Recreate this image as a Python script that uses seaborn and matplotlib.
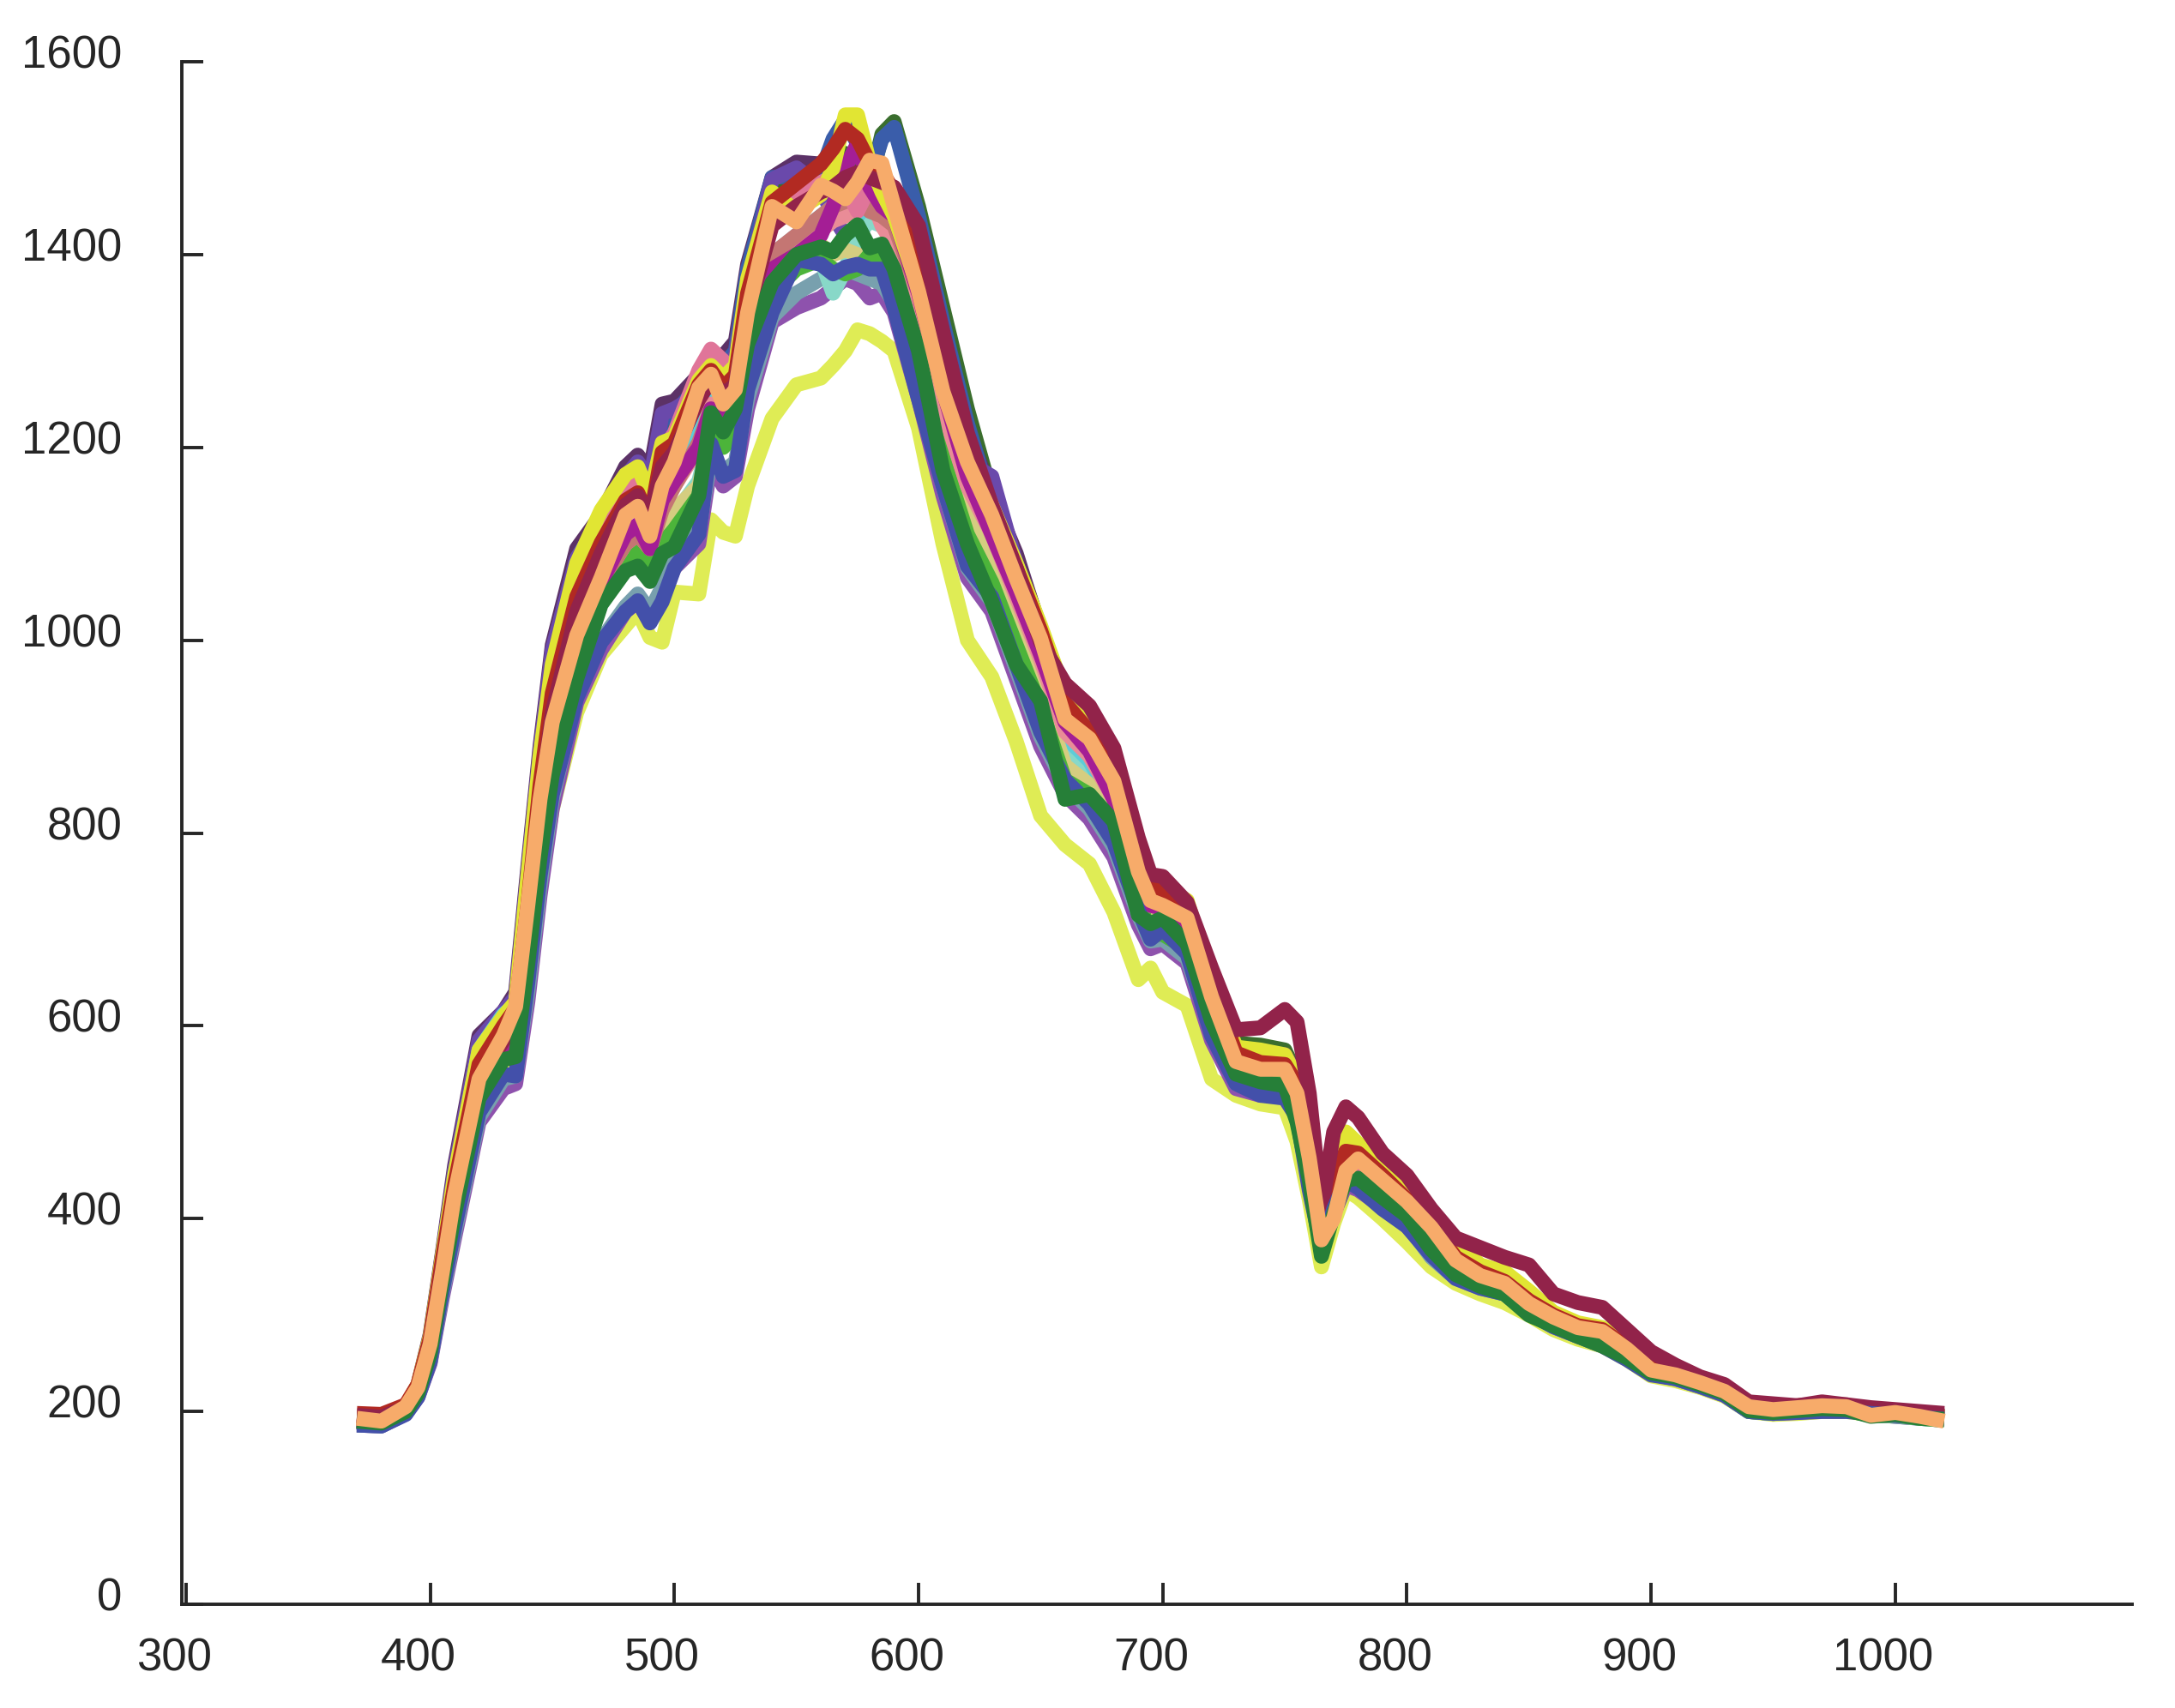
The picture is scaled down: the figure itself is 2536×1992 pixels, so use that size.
import pandas as pd
import matplotlib
matplotlib.use('Agg')
import matplotlib.pyplot as plt
import matplotlib.transforms as mtransforms
import seaborn as sns

# wavelength grid (nm) shared by all spectra
wavelength = [370, 380, 390, 395, 400, 405, 410, 420, 430, 435, 440, 445,
              450, 460, 470, 480, 485, 490, 495, 500,
              510, 515, 520, 525, 530,
              540, 550, 560, 565, 570, 575, 580, 585, 590,
              600, 610, 620, 630, 640, 650, 660, 670, 680, 690,
              695, 700, 710, 720, 730, 740, 750, 755, 760, 765, 770, 775, 780,
              790, 800, 810, 820, 830, 840, 850, 860, 870, 880,
              890, 900, 910, 920, 930, 940, 950, 960, 970, 980,
              990, 1000, 1010, 1020]

light_yellow = [190, 188, 200, 218, 255, 325, 390, 505, 548, 555, 640, 745,
                825, 925, 985, 1015, 1030, 1003, 998, 1050,
                1048, 1125, 1112, 1108, 1160,
                1230, 1265, 1272, 1285, 1300, 1322, 1318, 1310, 1300,
                1220, 1100, 1000, 962, 895, 818, 788, 768, 718, 648,
                660, 635, 621, 545, 528, 519, 515, 480, 420, 350, 395, 430, 422,
                400, 376, 350, 333, 322, 313, 300, 285, 275, 268,
                254, 237, 232, 225, 216, 200, 197, 198, 200, 200,
                197, 196, 194, 192]

dark_green = [190, 188, 203, 225, 272, 355, 440, 570, 605, 620, 745, 870,
              975, 1075, 1120, 1165, 1175, 1155, 1220, 1228,
              1258, 1275, 1280, 1295, 1375,
              1465, 1470, 1475, 1490, 1505, 1490, 1470, 1525, 1538,
              1450, 1345, 1240, 1150, 1085, 1012, 945, 910, 862, 785,
              748, 745, 722, 650, 582, 580, 575, 548, 462, 382, 438, 462, 458,
              436, 414, 386, 356, 342, 335, 313, 296, 286, 281,
              264, 244, 238, 230, 221, 204, 202, 203, 205, 204,
              200, 198, 196, 194]

dark_purple = [192, 190, 205, 228, 280, 365, 455, 590, 615, 635, 765, 890,
               995, 1095, 1130, 1180, 1192, 1175, 1245, 1248,
               1275, 1290, 1295, 1310, 1390,
               1480, 1496, 1494, 1482, 1478, 1475, 1470, 1465, 1455,
               1410, 1320, 1220, 1150, 1090, 1010, 945, 920, 870, 790,
               755, 750, 725, 645, 575, 565, 565, 545, 465, 385, 440, 468, 463,
               440, 418, 390, 358, 345, 338, 316, 298, 289, 284,
               267, 246, 240, 232, 222, 206, 204, 205, 207, 206,
               202, 200, 197, 196]

royal_blue = [189, 187, 202, 225, 274, 358, 445, 580, 610, 625, 755, 880,
              985, 1085, 1125, 1170, 1180, 1160, 1228, 1235,
              1265, 1280, 1285, 1300, 1385,
              1480, 1482, 1485, 1520, 1540, 1515, 1480, 1520, 1532,
              1440, 1330, 1225, 1140, 1075, 1005, 940, 905, 858, 780,
              745, 740, 715, 635, 570, 560, 558, 540, 460, 382, 435, 462, 458,
              436, 412, 386, 355, 342, 335, 313, 296, 286, 281,
              264, 244, 238, 230, 221, 204, 202, 203, 205, 204,
              200, 198, 196, 194]

purple = [188, 187, 202, 226, 277, 362, 450, 585, 615, 630, 760, 885,
          990, 1085, 1125, 1170, 1185, 1165, 1235, 1240,
          1255, 1275, 1280, 1295, 1370,
          1478, 1490, 1470, 1440, 1420, 1400, 1390, 1380, 1360,
          1320, 1250, 1185, 1170, 1080, 1000, 930, 895, 845, 770,
          735, 732, 712, 632, 566, 560, 565, 545, 462, 383, 432, 462, 458,
          436, 414, 388, 356, 344, 336, 314, 296, 287, 282,
          265, 245, 239, 231, 221, 204, 203, 204, 207, 206,
          200, 199, 196, 194]

light_purple = [186, 185, 198, 215, 250, 318, 380, 500, 535, 540, 625, 735,
                825, 935, 990, 1030, 1040, 1020, 1045, 1075,
                1100, 1185, 1160, 1170, 1240,
                1330, 1345, 1355, 1365, 1375, 1370, 1355, 1360, 1340,
                1250, 1150, 1065, 1030, 960, 890, 840, 815, 775, 705,
                680, 685, 665, 585, 535, 528, 540, 520, 440, 368, 405, 435, 430,
                412, 392, 364, 340, 329, 322, 302, 288, 278, 270,
                256, 239, 234, 226, 217, 200, 198, 199, 201, 201,
                197, 195, 193, 191]

slate_teal = [186, 185, 198, 216, 252, 322, 385, 505, 545, 548, 635, 745,
              835, 945, 1000, 1035, 1048, 1030, 1055, 1085,
              1115, 1190, 1175, 1185, 1250,
              1335, 1360, 1375, 1380, 1385, 1380, 1375, 1370, 1350,
              1265, 1160, 1075, 1040, 970, 900, 850, 825, 785, 715,
              688, 690, 670, 595, 540, 530, 530, 510, 438, 368, 410, 440, 436,
              414, 394, 360, 338, 328, 322, 302, 288, 278, 270,
              256, 239, 234, 226, 217, 200, 198, 200, 201, 201,
              197, 195, 193, 191]

light_teal = [191, 189, 201, 220, 262, 338, 410, 530, 575, 580, 675, 790,
              885, 985, 1040, 1075, 1085, 1065, 1100, 1130,
              1165, 1215, 1205, 1220, 1290,
              1370, 1400, 1395, 1360, 1385, 1420, 1435, 1430, 1415,
              1340, 1230, 1140, 1090, 1025, 955, 880, 860, 815, 740,
              705, 705, 690, 615, 555, 548, 548, 525, 450, 375, 420, 450, 448,
              428, 406, 376, 348, 336, 328, 306, 292, 281, 274,
              259, 241, 236, 228, 219, 201, 199, 201, 203, 202,
              197, 196, 193, 191]

cyan = [192, 190, 203, 224, 272, 355, 440, 575, 612, 622, 735, 855,
        960, 1060, 1110, 1140, 1145, 1120, 1170, 1190,
        1230, 1260, 1250, 1265, 1330,
        1400, 1420, 1440, 1450, 1445, 1440, 1455, 1450, 1430,
        1350, 1245, 1160, 1110, 1045, 975, 900, 875, 830, 755,
        720, 715, 700, 625, 562, 556, 556, 532, 455, 380, 430, 460, 456,
        434, 412, 385, 354, 340, 332, 310, 295, 285, 280,
        262, 243, 237, 229, 220, 203, 201, 203, 205, 204,
        198, 197, 194, 192]

tan = [190, 188, 201, 221, 264, 340, 410, 530, 572, 575, 670, 785,
       880, 985, 1045, 1080, 1090, 1075, 1110, 1135,
       1160, 1210, 1215, 1230, 1290,
       1375, 1405, 1410, 1400, 1405, 1400, 1395, 1400, 1390,
       1320, 1220, 1130, 1080, 1010, 945, 870, 850, 810, 740,
       700, 700, 690, 610, 552, 556, 556, 535, 455, 378, 430, 458, 452,
       432, 410, 384, 352, 339, 331, 309, 294, 284, 279,
       262, 242, 237, 229, 220, 203, 200, 203, 205, 204,
       198, 197, 194, 192]

lime = [190, 188, 200, 220, 262, 335, 405, 525, 568, 570, 665, 775,
        870, 975, 1040, 1085, 1092, 1075, 1100, 1115,
        1150, 1220, 1200, 1215, 1285,
        1360, 1385, 1395, 1385, 1380, 1385, 1400, 1395, 1380,
        1300, 1190, 1110, 1060, 995, 930, 855, 840, 805, 730,
        695, 695, 680, 605, 548, 545, 545, 520, 448, 372, 412, 445, 445,
        424, 402, 370, 344, 332, 324, 303, 290, 280, 271,
        257, 240, 235, 227, 218, 200, 198, 200, 202, 201,
        196, 196, 193, 191]

salmon = [193, 190, 202, 223, 268, 345, 417, 540, 582, 590, 690, 810,
          910, 1010, 1060, 1100, 1110, 1095, 1140, 1160,
          1200, 1245, 1240, 1250, 1320,
          1400, 1420, 1425, 1435, 1440, 1450, 1465, 1430, 1410,
          1345, 1240, 1160, 1110, 1045, 980, 905, 880, 835, 760,
          725, 722, 703, 624, 562, 555, 556, 532, 456, 380, 428, 458, 456,
          436, 414, 388, 356, 341, 334, 312, 297, 286, 282,
          264, 244, 238, 230, 221, 204, 202, 204, 206, 205,
          198, 198, 195, 193]

rosy_brown = [192, 190, 202, 222, 267, 342, 415, 538, 580, 588, 685, 805,
              905, 1005, 1060, 1100, 1110, 1095, 1135, 1160,
              1205, 1240, 1235, 1248, 1315,
              1400, 1420, 1440, 1450, 1455, 1460, 1445, 1440, 1430,
              1360, 1260, 1175, 1120, 1055, 990, 915, 890, 845, 770,
              735, 730, 708, 628, 565, 560, 562, 540, 462, 385, 445, 472, 470,
              442, 420, 393, 360, 345, 337, 316, 300, 290, 285,
              268, 246, 240, 232, 222, 206, 204, 206, 208, 207,
              201, 200, 197, 195]

pink = [195, 193, 204, 225, 272, 350, 425, 555, 600, 615, 725, 850,
        950, 1050, 1110, 1150, 1165, 1140, 1195, 1215,
        1280, 1302, 1290, 1270, 1345,
        1440, 1460, 1475, 1480, 1470, 1445, 1470, 1478, 1460,
        1380, 1270, 1180, 1125, 1060, 995, 925, 893, 845, 770,
        735, 730, 708, 628, 565, 558, 558, 535, 458, 382, 432, 462, 458,
        438, 416, 390, 357, 343, 335, 313, 297, 287, 283,
        266, 245, 239, 231, 222, 205, 203, 205, 207, 206,
        199, 199, 196, 193]

magenta = [190, 188, 201, 222, 267, 342, 415, 535, 580, 590, 690, 810,
           915, 1010, 1060, 1110, 1120, 1095, 1145, 1165,
           1200, 1240, 1230, 1240, 1310,
           1385, 1400, 1420, 1450, 1490, 1515, 1470, 1450, 1440,
           1360, 1260, 1170, 1110, 1050, 985, 915, 885, 835, 760,
           725, 722, 705, 625, 565, 560, 570, 548, 462, 382, 440, 472, 465,
           440, 418, 392, 358, 344, 336, 314, 298, 288, 283,
           266, 245, 239, 231, 221, 205, 203, 204, 206, 205,
           199, 198, 195, 193]

yellow = [195, 193, 206, 228, 278, 362, 445, 575, 610, 625, 755, 880,
          975, 1080, 1135, 1172, 1180, 1150, 1205, 1210,
          1270, 1285, 1272, 1285, 1375,
          1465, 1445, 1462, 1490, 1545, 1545, 1495, 1465, 1440,
          1365, 1275, 1200, 1140, 1080, 1015, 945, 915, 865, 785,
          750, 745, 730, 645, 578, 575, 570, 545, 475, 385, 460, 490, 478,
          450, 428, 409, 375, 352, 345, 325, 303, 292, 287,
          272, 250, 242, 232, 223, 206, 203, 204, 206, 205,
          200, 199, 196, 194]

red = [198, 197, 207, 228, 276, 358, 435, 560, 600, 618, 725, 850,
       945, 1045, 1101, 1145, 1153, 1125, 1195, 1204,
       1265, 1280, 1262, 1275, 1360,
       1454, 1474, 1494, 1510, 1530, 1520, 1495, 1486, 1465,
       1395, 1290, 1210, 1130, 1075, 1010, 935, 905, 860, 780,
       745, 738, 722, 640, 572, 562, 560, 540, 470, 385, 440, 470, 468,
       445, 420, 393, 360, 345, 335, 315, 300, 289, 285,
       267, 246, 240, 232, 222, 207, 204, 206, 208, 206,
       200, 201, 197, 195]

maroon = [196, 194, 204, 224, 270, 347, 420, 545, 585, 597, 700, 825,
          925, 1030, 1090, 1140, 1150, 1128, 1180, 1195,
          1250, 1270, 1255, 1265, 1340,
          1430, 1450, 1465, 1470, 1480, 1485, 1480, 1475, 1470,
          1430, 1320, 1215, 1140, 1075, 998, 955, 932, 888, 795,
          757, 755, 728, 660, 596, 598, 617, 604, 530, 410, 490, 516, 505,
          468, 445, 410, 380, 370, 360, 352, 322, 313, 308,
          285, 262, 248, 236, 228, 210, 208, 206, 210, 207,
          204, 202, 200, 198]

blue = [186, 185, 197, 215, 252, 325, 390, 510, 550, 548, 645, 755,
        840, 940, 998, 1030, 1041, 1018, 1040, 1075,
        1110, 1204, 1170, 1176, 1260,
        1340, 1395, 1390, 1380, 1387, 1390, 1385, 1385, 1345,
        1250, 1160, 1077, 1045, 975, 905, 855, 830, 790, 720,
        690, 700, 675, 590, 540, 528, 525, 505, 430, 370, 410, 440, 432,
        410, 392, 362, 338, 328, 322, 302, 288, 278, 268,
        254, 238, 234, 226, 217, 200, 198, 199, 200, 200,
        198, 196, 194, 192]

green = [190, 188, 200, 219, 260, 335, 405, 525, 565, 568, 665, 775,
         860, 960, 1037, 1072, 1077, 1061, 1090, 1097,
         1150, 1236, 1216, 1240, 1307,
         1371, 1400, 1408, 1403, 1420, 1431, 1407, 1411, 1385,
         1300, 1176, 1100, 1040, 975, 937, 835, 840, 812, 715,
         706, 712, 685, 605, 550, 542, 538, 500, 440, 361, 405, 440, 442,
         422, 403, 368, 342, 330, 322, 300, 289, 278, 268,
         256, 240, 236, 228, 219, 201, 199, 201, 203, 202,
         195, 197, 193, 192]

orange = [193, 190, 205, 225, 270, 345, 425, 545, 590, 620, 725, 835,
          915, 1005, 1065, 1130, 1139, 1108, 1160, 1185,
          1262, 1276, 1245, 1260, 1340,
          1450, 1434, 1472, 1466, 1458, 1475, 1498, 1495, 1450,
          1362, 1258, 1185, 1130, 1064, 1002, 918, 898, 854, 760,
          730, 725, 712, 630, 563, 555, 555, 530, 463, 378, 400, 450, 462,
          440, 418, 391, 357, 341, 333, 312, 298, 287, 283,
          265, 243, 238, 230, 221, 205, 202, 204, 206, 205,
          196, 199, 195, 190]

# draw order: first listed is at the bottom
samples = ['light_yellow', 'dark_green', 'dark_purple', 'royal_blue', 'purple',
           'light_purple', 'slate_teal', 'light_teal', 'cyan', 'tan', 'lime',
           'salmon', 'rosy_brown', 'pink', 'magenta', 'yellow', 'red',
           'maroon', 'blue', 'green', 'orange']
values = [light_yellow, dark_green, dark_purple, royal_blue, purple,
          light_purple, slate_teal, light_teal, cyan, tan, lime,
          salmon, rosy_brown, pink, magenta, yellow, red,
          maroon, blue, green, orange]
colors = ['#DFEC55', '#3A6E2E', '#5C3267', '#3A5DAA', '#6A49AB',
          '#8E52AD', '#78A0AE', '#88D8C8', '#5DCDD8', '#D5CD80', '#4CB43A',
          '#E98C97', '#C47673', '#E07599', '#A41E95', '#E1E533', '#B22A22',
          '#92234A', '#4350AA', '#267F38', '#F7AB6A']

rows = []
for name, vals in zip(samples, values):
    for w, v in zip(wavelength, vals):
        rows.append({'wavelength': w, 'intensity': v, 'sample': name})
df = pd.DataFrame(rows)

sns.set_style('ticks')
plt.rcParams['font.family'] = ['Liberation Sans', 'DejaVu Sans']

fig = plt.figure(figsize=(25.36, 19.92), dpi=100)
ax = fig.add_axes([0.0836, 0.0607, 0.8967, 0.9031])

sns.lineplot(data=df, x='wavelength', y='intensity', hue='sample',
             hue_order=samples, palette=colors,
             estimator=None, sort=False, legend=False, ax=ax)
for ln in ax.lines:
    ln.set_linewidth(12.5)
    ln.set_solid_joinstyle('round')
    ln.set_solid_capstyle('butt')

ax.set_xlim(298.3, 1097)
ax.set_ylim(0, 1600)
ax.set_xticks(range(300, 1001, 100))
ax.set_yticks(range(0, 1601, 200))
ax.set_xlabel('')
ax.set_ylabel('')
sns.despine(ax=ax)
for s in ['left', 'bottom']:
    ax.spines[s].set_linewidth(2.8)
    ax.spines[s].set_color('#262626')

ax.tick_params(direction='in', length=18, width=2.8, colors='#262626',
               labelsize=38, labelcolor='#262626')
ax.tick_params(axis='y', pad=50)
ax.tick_params(axis='x', pad=28)

# labels sit a little off their ticks in the original export
for lab in ax.get_yticklabels():
    lab.set_transform(lab.get_transform() +
                      mtransforms.ScaledTranslation(0, 0.12, fig.dpi_scale_trans))
for lab in ax.get_xticklabels():
    lab.set_transform(lab.get_transform() +
                      mtransforms.ScaledTranslation(-0.14, 0, fig.dpi_scale_trans))

fig.savefig('out.png', dpi=100)
